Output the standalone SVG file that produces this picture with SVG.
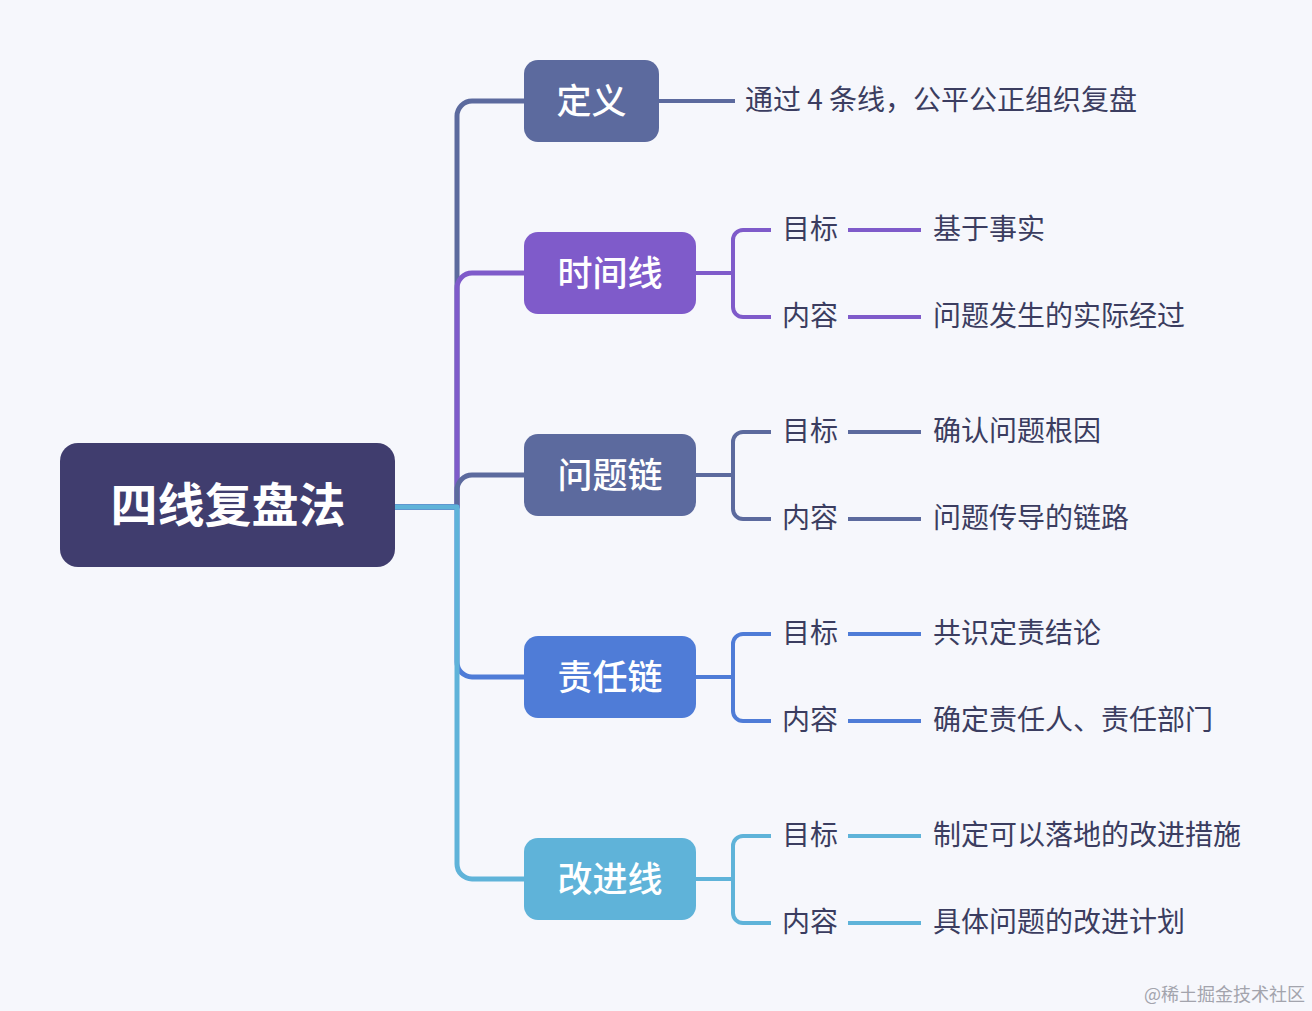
<svg xmlns="http://www.w3.org/2000/svg" width="1312" height="1011" viewBox="0 0 1312 1011">
<style>
.root{fill:#403d6e}
.rt{font-family:"Noto Sans CJK SC","Noto Sans",sans-serif;font-weight:bold;font-size:47px;fill:#fff;text-anchor:middle}
.bt{font-family:"Noto Sans CJK SC","Noto Sans",sans-serif;font-weight:500;font-size:35px;fill:#fff;text-anchor:middle}
.st{font-family:"Noto Sans CJK SC","Noto Sans",sans-serif;font-size:28px;fill:#3b3d60}
.wm{font-family:"Noto Sans CJK SC","Noto Sans",sans-serif;font-size:18px;fill:#a3a4ad;text-anchor:end}
.c{fill:none;stroke-linecap:butt;stroke-linejoin:round}
.trunk{stroke-width:5}
.sub{stroke-width:4}
.slate{fill:#5c6a9e}
.purple{fill:#7f5bca}
.blue{fill:#4f7cd7}
.cyan{fill:#5fb3d9}
.s-slate{stroke:#5c6a9e}
.s-purple{stroke:#7f5bca}
.s-blue{stroke:#4f7cd7}
.s-cyan{stroke:#5fb3d9}
</style>
<rect width="1312" height="1011" fill="#f6f7fc"/>
<g id="connectors">
  <path class="c trunk s-slate" d="M395 507 H457 V116 A15 15 0 0 1 472 101 H524"/>
  <path class="c trunk s-purple" d="M395 507 H457 V288 A15 15 0 0 1 472 273 H524"/>
  <path class="c trunk s-slate" d="M395 507 H457 V490 A15 15 0 0 1 472 475 H524"/>
  <path class="c trunk s-blue" d="M395 507 H457 V662 A15 15 0 0 0 472 677 H524"/>
  <path class="c trunk s-cyan" d="M395 507 H457 V864 A15 15 0 0 0 472 879 H524"/>
  <path class="c sub s-slate" d="M659 101 H735"/>
  <path class="c sub s-purple" d="M696 273 H733 M771 230 H743 A10 10 0 0 0 733 240 V307 A10 10 0 0 0 743 317 H771 M848 230 H921 M848 317 H921"/>
  <path class="c sub s-slate" d="M696 475 H733 M771 432 H743 A10 10 0 0 0 733 442 V509 A10 10 0 0 0 743 519 H771 M848 432 H921 M848 519 H921"/>
  <path class="c sub s-blue" d="M696 677 H733 M771 634 H743 A10 10 0 0 0 733 644 V711 A10 10 0 0 0 743 721 H771 M848 634 H921 M848 721 H921"/>
  <path class="c sub s-cyan" d="M696 879 H733 M771 836 H743 A10 10 0 0 0 733 846 V913 A10 10 0 0 0 743 923 H771 M848 836 H921 M848 923 H921"/>
</g>
<g id="root">
  <rect class="root" x="60" y="443" width="335" height="124" rx="18"/>
  <text class="rt" x="228" y="522">四线复盘法</text>
</g>
<g id="n-dingyi">
  <rect class="slate" x="524" y="60" width="135" height="82" rx="14"/>
  <text class="bt" x="591.5" y="114">定义</text>
</g>
<g id="n-dingyi-text">
  <text class="st" x="745" y="110">通过 4 条线，公平公正组织复盘</text>
</g>
<g id="n-shijianxian">
  <rect class="purple" x="524" y="232" width="172" height="82" rx="14"/>
  <text class="bt" x="610" y="286">时间线</text>
</g>
<g id="n-shijianxian-sub">
  <text class="st" x="782" y="239">目标</text>
  <text class="st" x="933" y="239">基于事实</text>
  <text class="st" x="782" y="326">内容</text>
  <text class="st" x="933" y="326">问题发生的实际经过</text>
</g>
<g id="n-wentilian">
  <rect class="slate" x="524" y="434" width="172" height="82" rx="14"/>
  <text class="bt" x="610" y="488">问题链</text>
</g>
<g id="n-wentilian-sub">
  <text class="st" x="782" y="441">目标</text>
  <text class="st" x="933" y="441">确认问题根因</text>
  <text class="st" x="782" y="528">内容</text>
  <text class="st" x="933" y="528">问题传导的链路</text>
</g>
<g id="n-zerenlian">
  <rect class="blue" x="524" y="636" width="172" height="82" rx="14"/>
  <text class="bt" x="610" y="690">责任链</text>
</g>
<g id="n-zerenlian-sub">
  <text class="st" x="782" y="643">目标</text>
  <text class="st" x="933" y="643">共识定责结论</text>
  <text class="st" x="782" y="730">内容</text>
  <text class="st" x="933" y="730">确定责任人、责任部门</text>
</g>
<g id="n-gaijinxian">
  <rect class="cyan" x="524" y="838" width="172" height="82" rx="14"/>
  <text class="bt" x="610" y="892">改进线</text>
</g>
<g id="n-gaijinxian-sub">
  <text class="st" x="782" y="845">目标</text>
  <text class="st" x="933" y="845">制定可以落地的改进措施</text>
  <text class="st" x="782" y="932">内容</text>
  <text class="st" x="933" y="932">具体问题的改进计划</text>
</g>
<text class="wm" x="1305" y="1001">@稀土掘金技术社区</text>
</svg>
